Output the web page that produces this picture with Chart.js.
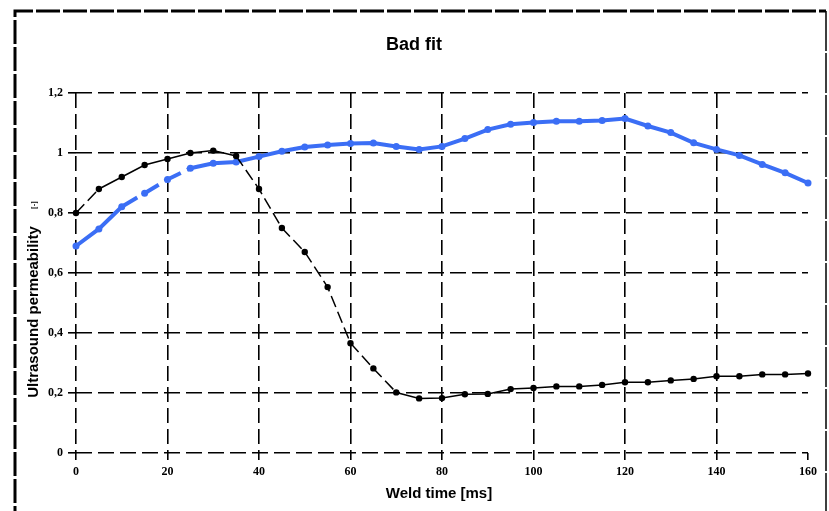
<!DOCTYPE html>
<html>
<head>
<meta charset="utf-8">
<script src="https://cdn.jsdelivr.net/npm/chart.js@4.4.1/dist/chart.umd.min.js"></script>
<style>
  html, body { margin: 0; padding: 0; background: #fff; }
  #wrap { width: 829px; height: 511px; position: relative; }
</style>
</head>
<body>
<div id="wrap"><canvas id="badFit"></canvas></div>
<script>
// weld time [ms]
const weldTime = [0, 5, 10, 15, 20, 25, 30, 35, 40, 45, 50, 55, 60, 65, 70, 75, 80,
  85, 90, 95, 100, 105, 110, 115, 120, 125, 130, 135, 140, 145, 150, 155, 160];

// black curve
const measured = [0.80, 0.88, 0.92, 0.96, 0.98, 1.00, 1.008, 0.99, 0.88, 0.75, 0.67, 0.553, 0.366, 0.282, 0.202, 0.182, 0.183,
  0.196, 0.197, 0.213, 0.217, 0.222, 0.222, 0.227, 0.236, 0.236, 0.242, 0.247, 0.256, 0.256, 0.262, 0.262, 0.265];

// blue curve
const model = [0.69, 0.747, 0.821, 0.866, 0.912, 0.949, 0.966, 0.97, 0.988, 1.006, 1.02, 1.027, 1.032, 1.033, 1.022, 1.012, 1.022,
  1.048, 1.078, 1.096, 1.102, 1.106, 1.106, 1.108, 1.115, 1.09, 1.068, 1.034, 1.012, 0.992, 0.962, 0.934, 0.90];

const yTickLabels = ['0', '0,2', '0,4', '0,6', '0,8', '1', '1,2'];
const xTickLabels = ['0', '20', '40', '60', '80', '100', '120', '140', '160'];

const chartTitle = 'Bad fit';
const xTitle = 'Weld time [ms]';
const yTitle = 'Ultrasound permeability';
const yUnit = '[-]';

// segments drawn dashed (index of segment start)
const measuredDashed = [0, 7, 8, 9, 10, 11, 12, 13];
const modelDashed = [2, 3, 4];

const toPoints = (ys) => weldTime.map((x, i) => ({ x: x, y: ys[i] }));

// frame and free text
const decor = {
  id: 'decor',
  afterDraw(chart) {
    const ctx = chart.ctx;
    ctx.save();
    ctx.strokeStyle = '#000';
    ctx.lineWidth = 3;
    ctx.setLineDash([24, 3]);
    ctx.beginPath();
    ctx.moveTo(15, 530);
    ctx.lineTo(15, 11);
    ctx.lineTo(826, 11);
    ctx.stroke();
    ctx.lineWidth = 1.5;
    ctx.setLineDash([40, 2]);
    ctx.beginPath();
    ctx.moveTo(826, 11);
    ctx.lineTo(826, 530);
    ctx.stroke();

    ctx.setLineDash([]);
    ctx.fillStyle = '#000';
    ctx.textAlign = 'center';
    ctx.textBaseline = 'middle';
    ctx.font = 'bold 18px "Liberation Sans", Arial, sans-serif';
    ctx.fillText(chartTitle, 414, 45);
    ctx.font = 'bold 15px "Liberation Sans", Arial, sans-serif';
    ctx.fillText(xTitle, 439, 494);

    ctx.save();
    ctx.translate(34, 312);
    ctx.rotate(-Math.PI / 2);
    ctx.fillText(yTitle, 0, 0);
    ctx.restore();

    ctx.save();
    ctx.translate(35, 205);
    ctx.rotate(-Math.PI / 2);
    ctx.font = 'bold 8px "Liberation Serif", serif';
    ctx.fillText(yUnit, 0, 0);
    ctx.restore();
    ctx.restore();
  }
};

new Chart(document.getElementById('badFit'), {
  type: 'line',
  plugins: [decor],
  data: {
    datasets: [{
      label: 'measured',
      data: toPoints(measured),
      borderColor: '#000',
      backgroundColor: '#000',
      borderWidth: 1.5,
      pointRadius: 3.2,
      pointBorderWidth: 0,
      tension: 0,
      clip: 8,
      segment: {
        borderDash: (c) => measuredDashed.includes(c.p0DataIndex) ? [12, 5] : undefined
      }
    }, {
      label: 'model',
      data: toPoints(model),
      borderColor: '#3b6ef5',
      backgroundColor: '#3b6ef5',
      borderWidth: 4,
      pointRadius: 3.5,
      pointBorderWidth: 0,
      tension: 0,
      clip: 8,
      segment: {
        borderDash: (c) => modelDashed.includes(c.p0DataIndex) ? [18, 7] : undefined
      }
    }]
  },
  options: {
    responsive: true,
    maintainAspectRatio: false,
    animation: false,
    layout: { padding: { left: 0, right: 21, top: 93, bottom: 0 } },
    plugins: {
      legend: { display: false },
      tooltip: { enabled: false },
      title: { display: false }
    },
    scales: {
      x: {
        type: 'linear',
        min: 0,
        max: 160,
        afterFit: (s) => { s.height = 58; },
        afterBuildTicks: (s) => { s.ticks = xTickLabels.map((t) => ({ value: Number(t) })); },
        ticks: {
          autoSkip: false,
          maxRotation: 0,
          padding: 5,
          color: '#000',
          font: { family: '"Liberation Serif", serif', weight: 'bold', size: 12 },
          callback: (v, i) => xTickLabels[i]
        },
        grid: {
          color: (c) => (c.tick && c.tick.value === 160) ? 'rgba(0,0,0,0)' : '#000',
          lineWidth: 1.6,
          borderDash: [15, 6],
          tickLength: 7,
          tickColor: '#000',
          tickWidth: 1.6
        },
        border: { display: false, dash: [15, 6] }
      },
      y: {
        min: 0,
        max: 1.2,
        afterFit: (s) => { s.width = 76; },
        afterBuildTicks: (s) => { s.ticks = yTickLabels.map((t, i) => ({ value: i * 0.2 })); },
        ticks: {
          autoSkip: false,
          padding: 5,
          color: '#000',
          font: { family: '"Liberation Serif", serif', weight: 'bold', size: 12 },
          callback: (v, i) => yTickLabels[i]
        },
        grid: {
          color: '#000',
          lineWidth: 1.6,
          borderDash: [16, 6],
          tickLength: 8,
          tickColor: '#000',
          tickWidth: 1.6
        },
        border: { display: false, dash: [16, 6] }
      }
    }
  }
});
</script>
</body>
</html>
